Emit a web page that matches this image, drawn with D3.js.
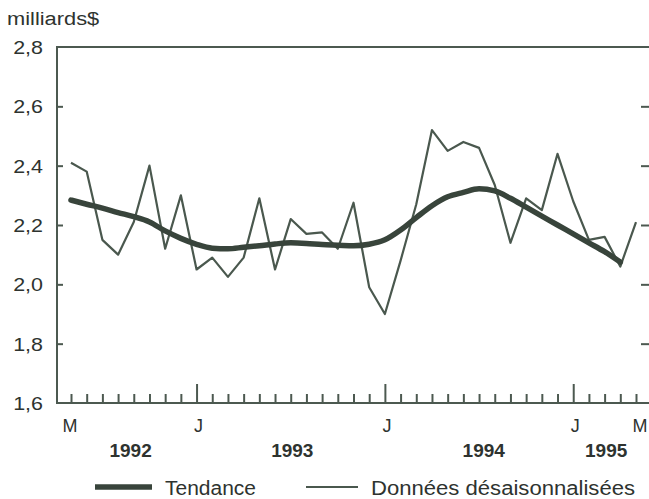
<!DOCTYPE html>
<html><head><meta charset="utf-8">
<script src="https://cdn.jsdelivr.net/npm/d3@7"></script>
<style>
html,body{margin:0;padding:0;background:#fff;}
svg{display:block;}
text{font-family:"Liberation Sans",Arial,sans-serif;fill:#2e332f;}
</style></head>
<body>
<svg id="chart" width="649" height="499"></svg>
<script>
// ---- Data (monthly, May 1992 .. May 1995) ----
const monthIndex = d3.range(37); // 0 = mai 1992, 36 = mai 1995
const seasonallyAdjusted = [2.41,2.38,2.15,2.10,2.21,2.40,2.12,2.30,2.05,2.09,2.025,2.09,2.29,2.05,2.22,2.17,2.175,2.12,2.275,1.99,1.90,2.08,2.27,2.52,2.45,2.48,2.46,2.335,2.14,2.29,2.25,2.44,2.28,2.15,2.16,2.06,2.21];
const trend = [2.284,2.27,2.257,2.242,2.228,2.21,2.18,2.155,2.135,2.122,2.12,2.125,2.13,2.136,2.14,2.138,2.134,2.132,2.13,2.135,2.15,2.183,2.225,2.265,2.295,2.31,2.322,2.315,2.29,2.26,2.23,2.20,2.17,2.14,2.11,2.075];
const yTicks = [1.6,1.8,2.0,2.2,2.4,2.6,2.8];
const xTickLabels = ["M","J","J","J","M"];
const xTickLabelIdx = [0,8,20,32,36];
const yearLabels = ["1992","1993","1994","1995"];
const yearCenterIdx = [3.8,14.1,26.3,34.1];
const legendLabels = ["Tendance","Données désaisonnalisées"];
const unitLabel = "milliards$";

(function(){
const svg = d3.select("#chart");
const axisColor = "#4c5950";
const trendColor = "#38443b";
const rawColor = "#4a584e";

const x = d3.scaleLinear().domain([0,36]).range([71,636]);
const y = d3.scaleLinear().domain([1.6,2.8]).range([403,47]);
const pLeft = 57, pRight = 650, pBottom = 403;

function stretched(g, tx, ty, txt, size, sx, anchor){
  return g.append("text").attr("transform",`translate(${tx},${ty}) scale(${sx},1)`)
    .attr("font-size",size).attr("text-anchor",anchor||"start").text(txt);
}

// frame
svg.append("line").attr("x1",pLeft).attr("x2",pRight).attr("y1",y(2.8)).attr("y2",y(2.8))
  .attr("stroke",axisColor).attr("stroke-width",2);
svg.append("line").attr("x1",pLeft).attr("x2",pLeft).attr("y1",y(2.8)-1).attr("y2",y(1.6)+1)
  .attr("stroke",axisColor).attr("stroke-width",2);
svg.append("line").attr("x1",pLeft).attr("x2",pRight).attr("y1",y(1.6)).attr("y2",y(1.6))
  .attr("stroke",axisColor).attr("stroke-width",2);

// left axis ticks (inward)
const yAxisL = d3.axisRight(y).tickValues(yTicks.slice(1,-1)).tickSize(6).tickFormat("");
const gl = svg.append("g").attr("transform",`translate(${pLeft},0)`).call(yAxisL);
gl.select(".domain").remove();
gl.selectAll("line").attr("stroke",axisColor).attr("stroke-width",2);

// right axis ticks (inward)
const yAxisR = d3.axisLeft(y).tickValues(yTicks.slice(1,-1)).tickSize(8).tickFormat("");
const gr = svg.append("g").attr("transform",`translate(${pRight-1},0)`).call(yAxisR);
gr.select(".domain").remove();
gr.selectAll("line").attr("stroke",axisColor).attr("stroke-width",2);

// y labels
const gyl = svg.append("g");
yTicks.forEach(d=>stretched(gyl, 43, y(d)+7, d.toFixed(1).replace(".",","), 19, 1.13, "end"));

stretched(svg, 7, 25, unitLabel, 19, 1.15, "start");

// bottom month ticks (inward/up)
const majorIdx = new Set([8,20,32]);
const xAxis = d3.axisTop(x).tickValues(monthIndex).tickSize(9).tickFormat("");
const gx = svg.append("g").attr("transform",`translate(0,${pBottom})`).call(xAxis);
gx.select(".domain").remove();
gx.selectAll(".tick line").attr("stroke",axisColor).attr("stroke-width",2)
  .attr("y2",d=>majorIdx.has(d)?-19:-9);

// month labels
svg.append("g").selectAll("text").data(xTickLabels).join("text")
  .attr("x",(d,i)=>x(xTickLabelIdx[i]) + (i===0?-1:(i===4?4:2))).attr("y",432).attr("text-anchor","middle")
  .attr("font-size",18).text(d=>d);

// year labels
svg.append("g").selectAll("text").data(yearLabels).join("text")
  .attr("x",(d,i)=>x(yearCenterIdx[i])).attr("y",457)
  .attr("text-anchor","middle").attr("font-size",19).attr("font-weight","bold").text(d=>d);

// series
const rawLine = d3.line().x((d,i)=>x(i)).y(d=>y(d)).curve(d3.curveLinear);
svg.append("path").datum(seasonallyAdjusted).attr("d",rawLine)
  .attr("fill","none").attr("stroke",rawColor).attr("stroke-width",2.2).attr("stroke-linejoin","round");

const trendLine = d3.line().x((d,i)=>x(i)).y(d=>y(d)).curve(d3.curveMonotoneX);
svg.append("path").datum(trend).attr("d",trendLine)
  .attr("fill","none").attr("stroke",trendColor).attr("stroke-width",5.5).attr("stroke-linecap","round");

// legend
const lg = svg.append("g");
lg.append("line").attr("x1",95).attr("x2",152).attr("y1",487).attr("y2",487)
  .attr("stroke",trendColor).attr("stroke-width",5.5);
lg.append("text").attr("x",165).attr("y",495).attr("font-size",20)
  .attr("textLength",91).attr("lengthAdjust","spacingAndGlyphs").text(legendLabels[0]);
lg.append("line").attr("x1",306).attr("x2",358).attr("y1",487).attr("y2",487)
  .attr("stroke",rawColor).attr("stroke-width",2);
lg.append("text").attr("x",371).attr("y",495).attr("font-size",20)
  .attr("textLength",264).attr("lengthAdjust","spacingAndGlyphs").text(legendLabels[1]);
})();
</script>
</body></html>
